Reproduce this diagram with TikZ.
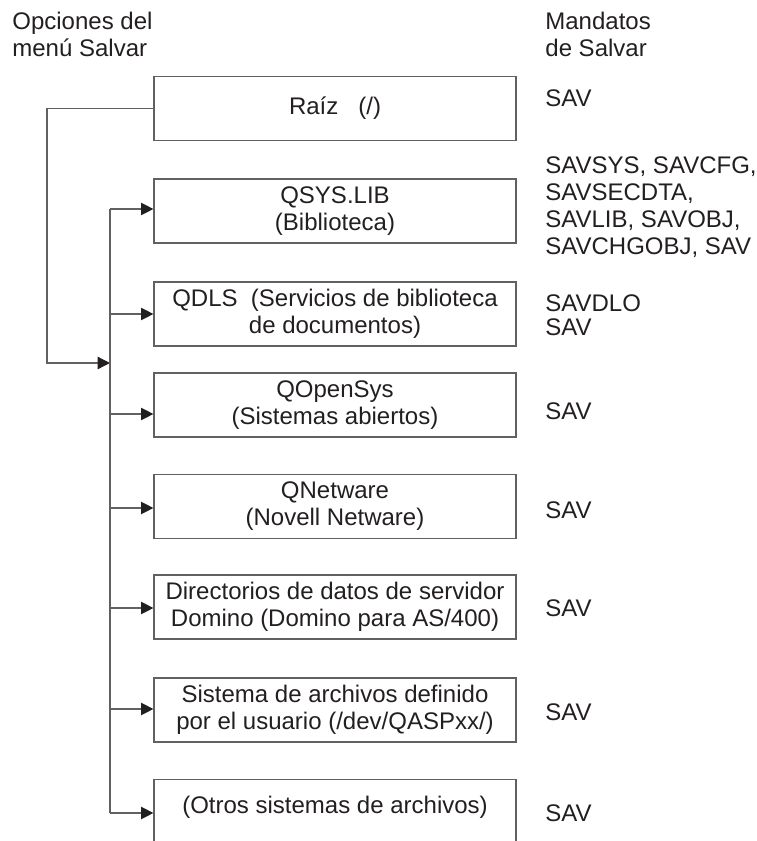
\documentclass[tikz,border=0pt]{standalone}
\usepackage{fontspec}
\setmainfont{Liberation Sans}
\usepackage{xcolor}
\usepackage{tikz}
\usetikzlibrary{positioning,arrows.meta}
\definecolor{inkdark}{HTML}{231F20}
\definecolor{linegray}{gray}{0.38}

\begin{document}
\begin{tikzpicture}[x=0.5pt,y=-0.5pt,
  txt/.style={font=\fontsize{12pt}{13.5pt}\selectfont, text=inkdark, inner sep=0pt},
  fsbox/.style={txt, draw=linegray, line width=0.6pt, minimum width=181pt, minimum height=32pt, align=center},
  cmd/.style={txt, anchor=west, align=left},
  feed/.style={linegray, line width=0.65pt},
  feedarr/.style={feed, -{Triangle[length=6.2pt,width=6.2pt,color=inkdark]}}]
\useasboundingbox (0,0) rectangle (756,841);
\clip (0,0) rectangle (756,841);
% column heads
\node[txt, anchor=north west, align=left] (hopc) at (12,12) {Opciones del\\menú Salvar};
\node[cmd, anchor=north west] (hcmd) at (545,12) {Mandatos\\de Salvar};
% file systems
\node[fsbox] (raiz) at (335,108.5) {Raíz\ \ \ (/)};
\node[fsbox] (qsys) at (335,211) {QSYS.LIB\\(Biblioteca)};
\node[fsbox] (qdls) at (335,314) {QDLS\ \ (Servicios de biblioteca\\de documentos)};
\node[fsbox] (qopen) at (335,405) {QOpenSys\\(Sistemas abiertos)};
\node[fsbox] (qnet) at (335,506.5) {QNetware\\(Novell Netware)};
\node[fsbox] (domino) at (335,607) {Directorios de datos de servidor\\Domino (Domino para AS/400)};
\node[fsbox] (udfs) at (335,710) {Sistema de archivos definido\\por el usuario (/dev/QASPxx/)};
\node[fsbox, anchor=north, inner ysep=8pt, text depth=20pt] (otros) at (335,779) {(Otros sistemas de archivos)};
% save commands
\node[cmd] (craiz) at (545,98) {SAV};
\node[cmd, anchor=north west] (cqsys) at (545,156) {SAVSYS, SAVCFG,\\SAVSECDTA,\\SAVLIB, SAVOBJ,\\SAVCHGOBJ, SAV};
\node[cmd, font=\fontsize{12pt}{12pt}\selectfont] (cqdls) at (545,315) {SAVDLO\\SAV};
\node[cmd] (cqopen) at (545,411) {SAV};
\node[cmd] (cqnet) at (545,510) {SAV};
\node[cmd] (cdomino) at (545,608) {SAV};
\node[cmd] (cudfs) at (545,712) {SAV};
\node[cmd] (cotros) at (545,813) {SAV};
% connectors
\coordinate (lcorner) at (47,363);
\coordinate (tjoin) at (110,363);
\coordinate (t1) at (110,209);
\coordinate (t2) at (110,314);
\coordinate (t3) at (110,414);
\coordinate (t4) at (110,508);
\coordinate (t5) at (110,608);
\coordinate (t6) at (110,709);
\coordinate (t7) at (110,813);
\draw[feedarr] (raiz.west) -| (lcorner) -- (tjoin);
\draw[feed] (t1) -- (t7);
\draw[feedarr] (t1) -- (t1 -| qsys.west);
\draw[feedarr] (t2) -- (t2 -| qdls.west);
\draw[feedarr] (t3) -- (t3 -| qopen.west);
\draw[feedarr] (t4) -- (t4 -| qnet.west);
\draw[feedarr] (t5) -- (t5 -| domino.west);
\draw[feedarr] (t6) -- (t6 -| udfs.west);
\draw[feedarr] (t7) -- (t7 -| otros.west);
\end{tikzpicture}
\end{document}
